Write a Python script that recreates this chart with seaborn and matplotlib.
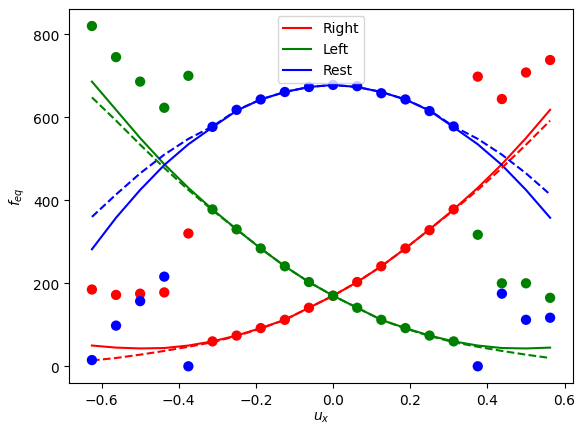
import numpy as np
import matplotlib
matplotlib.use("Agg")
import matplotlib.pyplot as plt
import seaborn as sns

# velocity grid u_x
ux = [-0.625, -0.5625, -0.5, -0.4375, -0.375, -0.3125, -0.25, -0.1875, -0.125, -0.0625,
      0.0, 0.0625, 0.125, 0.1875, 0.25, 0.3125, 0.375, 0.4375, 0.5, 0.5625]

# solid lines
right_solid = [50, 45, 43, 44, 50, 60, 74, 92, 112, 141,
               170, 203, 241, 284, 330, 378, 430, 487, 550, 618]
left_solid = [686, 618, 550, 487, 430, 378, 330, 284, 241, 203,
              170, 141, 112, 92, 74, 60, 50, 44, 43, 45]
rest_solid = [282, 358, 425, 485, 535, 576, 616, 643, 661, 673,
              678, 673, 661, 643, 616, 576, 535, 485, 425, 358]

# dashed lines
right_dash = [14, 20, 28, 37, 47, 58, 73, 91, 112, 141,
              170, 203, 241, 284, 330, 376, 425, 478, 534, 592]
left_dash = [648, 592, 534, 478, 425, 376, 330, 284, 241, 203,
             170, 141, 112, 91, 73, 58, 47, 37, 28, 20]
rest_dash = [360, 414, 465, 510, 548, 578, 617, 643, 661, 673,
             678, 673, 661, 643, 617, 578, 548, 510, 465, 414]

# scatter points
right_pts = [185, 172, 175, 178, 320, 60, 74, 92, 112, 141,
             170, 203, 241, 284, 328, 378, 698, 644, 708, 738]
left_pts = [820, 745, 686, 623, 700, 378, 330, 284, 241, 203,
            170, 141, 112, 92, 74, 60, 317, 200, 200, 165]
rest_pts = [15, 98, 157, 216, 0, 577, 618, 643, 661, 673,
            678, 675, 658, 643, 615, 578, 0, 175, 112, 117]

fig = plt.figure(figsize=(5.77, 4.27), dpi=100)
ax = fig.add_subplot(111)
fig.subplots_adjust(left=0.1196, right=0.9931, top=0.9766, bottom=0.1)

series = [("Right", "red", right_solid, right_dash, right_pts),
          ("Left", "green", left_solid, left_dash, left_pts),
          ("Rest", "blue", rest_solid, rest_dash, rest_pts)]

for name, col, solid, dash, pts in series:
    sns.lineplot(x=ux, y=solid, color=col, label=name, ax=ax, linewidth=1.5)
for name, col, solid, dash, pts in series:
    sns.lineplot(x=ux, y=dash, color=col, linestyle="--", ax=ax, linewidth=1.5)
    sns.scatterplot(x=ux, y=pts, color=col, s=55, edgecolor="none", ax=ax, zorder=3)

ax.set_yticks([0, 200, 400, 600, 800])
ax.set_xlabel("$u_x$", labelpad=2)
ax.set_ylabel("$f_{eq}$")
ax.legend(loc="upper center")

fig.savefig("out.png", dpi=100)
